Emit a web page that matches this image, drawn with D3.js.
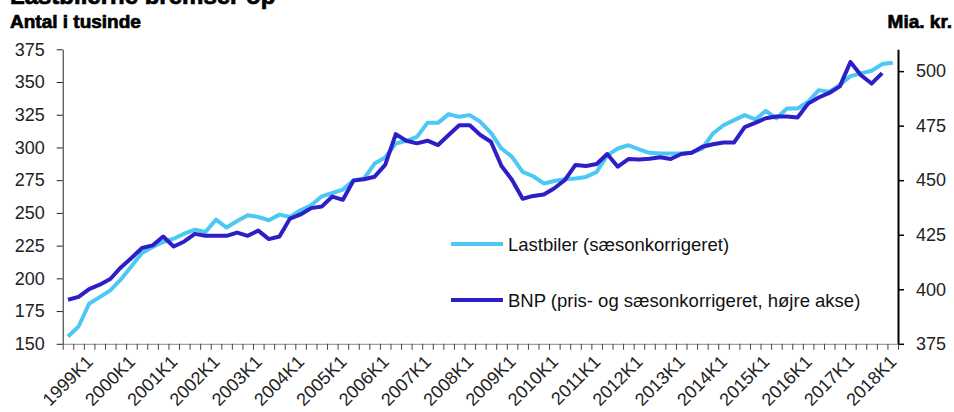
<!DOCTYPE html>
<html>
<head>
<meta charset="utf-8">
<script src="https://cdn.jsdelivr.net/npm/d3@7"></script>
<style>
  body { margin: 0; background: #fff; }
  svg { display: block; font-family: "Liberation Sans", Arial, sans-serif; }
</style>
</head>
<body>
<div id="chart"></div>
<script>
// quarterly data 1999K1 - 2018K3
var years = d3.range(1999, 2019);
var quarters = [];
years.forEach(function(y) { [1, 2, 3, 4].forEach(function(q) { quarters.push(y + "K" + q); }); });
quarters = quarters.slice(0, 79);

var yearLabels = years.map(function(y) { return y + "K1"; });

// Lastbiler (tusinde, venstre akse)
var lastbiler = [155.6, 163.2, 180.6, 185.7, 190.8, 199.2, 209.2, 219.3,
  223.9, 227.8, 230.3, 234.2, 237.2, 235.4, 244.9, 238.8,
  243.8, 248.2, 246.9, 244.4, 248.7, 246.9, 252.0, 255.8,
  262.7, 265.2, 267.8, 275.0, 276.3, 287.7, 292.3, 303.0,
  305.0, 308.1, 318.8, 318.8, 325.5, 323.4, 324.7, 319.6,
  311.2, 299.2, 292.8, 281.3, 278.0, 272.5, 274.4, 275.7,
  276.3, 277.5, 281.3, 294.0, 299.2, 301.7, 298.5, 295.9,
  295.4, 295.4, 295.4, 296.2, 299.2, 310.7, 317.0, 320.9,
  324.7, 321.4, 328.0, 322.2, 329.8, 329.8, 334.9, 343.8,
  342.5, 347.7, 354.5, 356.6, 358.6, 363.7, 364.7];

// BNP (mia. kr., hoejre akse)
var bnp = [395.2, 396.5, 400.1, 402.1, 404.7, 410.0, 414.3, 418.9,
  420.1, 424.2, 419.6, 421.9, 425.4, 424.5, 424.5, 424.5,
  426.0, 424.5, 426.9, 423.0, 424.2, 432.4, 434.3, 437.2,
  437.9, 442.5, 441.0, 449.8, 450.4, 451.6, 457.0, 471.1,
  468.1, 466.9, 468.1, 466.1, 470.7, 475.2, 475.2, 470.7,
  467.6, 456.5, 450.1, 441.5, 442.8, 443.4, 446.3, 450.1,
  457.0, 456.5, 457.4, 462.0, 456.2, 459.7, 459.5, 459.8,
  460.5, 459.7, 462.0, 462.6, 465.3, 466.5, 467.3, 467.3,
  474.3, 476.3, 478.4, 479.2, 479.2, 478.7, 485.1, 487.9,
  490.0, 493.0, 504.2, 498.1, 494.3, 499.1];

var leftTicks = [150, 175, 200, 225, 250, 275, 300, 325, 350, 375];
var rightTicks = [375, 400, 425, 450, 475, 500];

var width = 954, height = 412;
var x0 = 62.7, x1 = 898, yTop = 49.3, yBot = 343.8;
var lightBlue = "#4cc8f4", darkBlue = "#2e1ec8";

var svg = d3.select("#chart").append("svg")
  .attr("width", width)
  .attr("height", height);

var x = d3.scaleBand().domain(quarters).range([x0, x1]).padding(0);
var xb = d3.scaleLinear().domain([0, quarters.length]).range([x0, x1]);
var yL = d3.scaleLinear().domain([150, 375]).range([yBot, yTop]);
var yR = d3.scaleLinear().domain([375, 510]).range([yBot, yTop]);

// titles (heavy weight faked with a thin stroke)
function heavy(sel) {
  sel.style("font-weight", "bold").attr("fill", "#000")
    .attr("stroke", "#000").attr("stroke-width", 0.7);
}
svg.append("text").attr("x", 10).attr("y", 4)
  .style("font-size", "24px").call(heavy)
  .text("Lastbilerne bremser op");
svg.append("text").attr("x", 10).attr("y", 28)
  .style("font-size", "19px").call(heavy)
  .text("Antal i tusinde");
svg.append("text").attr("x", 952).attr("y", 28)
  .attr("text-anchor", "end")
  .style("font-size", "19px").call(heavy)
  .text("Mia. kr.");

// left axis
var gl = svg.append("g")
  .attr("transform", "translate(" + x0 + ",0)")
  .call(d3.axisLeft(yL).tickValues(leftTicks).tickSize(6).tickSizeOuter(0).tickPadding(12));
gl.select(".domain").attr("stroke", "#222");
gl.selectAll(".tick line").attr("stroke", "#222");
gl.selectAll(".tick text").style("font-size", "18px").attr("fill", "#222")
  .style("font-family", "Liberation Sans, Arial, sans-serif");

// right axis
var gr = svg.append("g")
  .attr("transform", "translate(" + x1 + ",0)")
  .call(d3.axisRight(yR).tickValues(rightTicks).tickSize(6).tickSizeOuter(0).tickPadding(12));
gr.select(".domain").attr("stroke", "#000").attr("stroke-width", 2);
gr.selectAll(".tick line").attr("stroke", "#000").attr("stroke-width", 1.5);
gr.selectAll(".tick text").style("font-size", "18px").attr("fill", "#222")
  .style("font-family", "Liberation Sans, Arial, sans-serif");

// bottom axis, ticks between quarters
var gb = svg.append("g")
  .attr("transform", "translate(0," + yBot + ")")
  .call(d3.axisBottom(xb).tickValues(d3.range(quarters.length + 1)).tickFormat("").tickSize(6).tickSizeOuter(0));
gb.select(".domain").attr("stroke", "#888");
gb.selectAll(".tick line").attr("stroke", "#444");

svg.append("g").selectAll("text")
  .data(yearLabels)
  .enter()
  .append("text")
  .attr("transform", function(d) {
    return "translate(" + (x(d) + x.bandwidth() / 2 + 26) + ",363) rotate(-45)";
  })
  .attr("text-anchor", "end")
  .style("font-size", "18px")
  .attr("fill", "#222")
  .text(function(d) { return d; });

// lines
var lineL = d3.line()
  .x(function(d, i) { return x(quarters[i]) + x.bandwidth() / 2; })
  .y(function(d) { return yL(d); });
var lineR = d3.line()
  .x(function(d, i) { return x(quarters[i]) + x.bandwidth() / 2; })
  .y(function(d) { return yR(d); });

svg.append("path").datum(lastbiler)
  .attr("d", lineL).attr("fill", "none")
  .attr("stroke", lightBlue).attr("stroke-width", 4).attr("stroke-linejoin", "round");
svg.append("path").datum(bnp)
  .attr("d", lineR).attr("fill", "none")
  .attr("stroke", darkBlue).attr("stroke-width", 4).attr("stroke-linejoin", "round");

// legend
var legend = [
  { name: "Lastbiler (sæsonkorrigeret)", color: lightBlue, y: 244 },
  { name: "BNP (pris- og sæsonkorrigeret, højre akse)", color: darkBlue, y: 300 }
];
var lg = svg.append("g").selectAll("g").data(legend).enter().append("g");
lg.append("line")
  .attr("x1", 451).attr("x2", 503)
  .attr("y1", function(d) { return d.y; }).attr("y2", function(d) { return d.y; })
  .attr("stroke", function(d) { return d.color; }).attr("stroke-width", 4);
lg.append("text")
  .attr("x", 508).attr("y", function(d) { return d.y + 6.5; })
  .style("font-size", "18.5px").attr("fill", "#111")
  .text(function(d) { return d.name; });
</script>
</body>
</html>
